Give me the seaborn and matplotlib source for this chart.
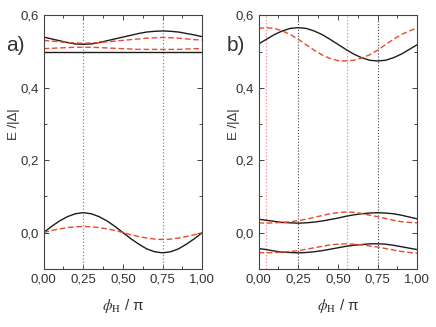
import matplotlib
matplotlib.use("Agg")
import matplotlib.pyplot as plt
from matplotlib.ticker import MultipleLocator
import seaborn as sns

# phase values (phi_H / pi)
phi = [0.00, 0.05, 0.10, 0.15, 0.20, 0.25, 0.30, 0.35, 0.40, 0.45, 0.50,
       0.55, 0.60, 0.65, 0.70, 0.75, 0.80, 0.85, 0.90, 0.95, 1.00]

# panel a)
a_black_top = [0.540, 0.535, 0.530, 0.525, 0.521, 0.520, 0.521, 0.525, 0.530, 0.535, 0.540,
               0.545, 0.550, 0.554, 0.556, 0.557, 0.556, 0.554, 0.550, 0.546, 0.541]
a_black_flat = [0.499] * 21
a_red_top = [0.531, 0.529, 0.527, 0.525, 0.524, 0.523, 0.524, 0.525, 0.527, 0.529, 0.531,
             0.533, 0.535, 0.537, 0.538, 0.539, 0.538, 0.537, 0.535, 0.533, 0.532]
a_red_mid = [0.508, 0.509, 0.510, 0.511, 0.512, 0.512, 0.512, 0.511, 0.510, 0.509, 0.508,
             0.507, 0.506, 0.506, 0.506, 0.506, 0.506, 0.506, 0.507, 0.508, 0.508]
a_black_low = [0.000, 0.017, 0.032, 0.044, 0.052, 0.055, 0.052, 0.044, 0.032, 0.017, 0.000,
               -0.017, -0.032, -0.045, -0.053, -0.056, -0.053, -0.045, -0.032, -0.017, 0.000]
a_red_low = [0.000, 0.006, 0.010, 0.014, 0.016, 0.017, 0.016, 0.014, 0.010, 0.006, 0.000,
             -0.006, -0.011, -0.015, -0.018, -0.019, -0.018, -0.015, -0.011, -0.006, 0.000]

# panel b)
b_black_top = [0.521, 0.534, 0.547, 0.557, 0.564, 0.566, 0.564, 0.557, 0.547, 0.534, 0.520,
               0.506, 0.493, 0.483, 0.476, 0.474, 0.476, 0.483, 0.493, 0.506, 0.519]
b_red_top = [0.564, 0.566, 0.564, 0.557, 0.547, 0.534, 0.519, 0.504, 0.491, 0.481, 0.475,
             0.474, 0.476, 0.482, 0.491, 0.504, 0.519, 0.534, 0.547, 0.557, 0.565]
b_black_l1 = [0.037, 0.034, 0.031, 0.028, 0.027, 0.026, 0.027, 0.029, 0.032, 0.036, 0.040,
              0.045, 0.049, 0.052, 0.054, 0.055, 0.054, 0.052, 0.048, 0.043, 0.038]
b_red_l1 = [0.027, 0.026, 0.027, 0.028, 0.030, 0.033, 0.037, 0.042, 0.047, 0.052, 0.055,
            0.057, 0.056, 0.053, 0.048, 0.044, 0.039, 0.034, 0.030, 0.028, 0.027]
b_black_l2 = [-0.044, -0.047, -0.051, -0.054, -0.055, -0.056, -0.055, -0.053, -0.050, -0.046, -0.042,
              -0.038, -0.035, -0.033, -0.031, -0.031, -0.032, -0.035, -0.039, -0.043, -0.047]
b_red_l2 = [-0.055, -0.056, -0.055, -0.054, -0.052, -0.050, -0.046, -0.042, -0.038, -0.034, -0.032,
            -0.031, -0.032, -0.034, -0.037, -0.040, -0.044, -0.048, -0.052, -0.055, -0.057]

a_vlines = [0.25, 0.75]
b_vlines_black = [0.25, 0.75]
b_vlines_red = [0.045, 0.555]

xtick_vals = [0.0, 0.25, 0.5, 0.75, 1.0]
xtick_labels = ["0,00", "0,25", "0,50", "0,75", "1,00"]
ytick_vals = [0.0, 0.2, 0.4, 0.6]
ytick_labels = ["0,0", "0,2", "0,4", "0,6"]

sns.set_style("ticks")
plt.rcParams['font.family'] = ['Liberation Sans', 'DejaVu Sans']
plt.rcParams['mathtext.fontset'] = 'stix'

BLACK = '#1c1c1c'
RED = '#ec4a2c'
TXT = '#333333'

fig = plt.figure(figsize=(4.36, 3.27), dpi=100)
ax_a = fig.add_axes([0.100, 0.178, 0.364, 0.775])
ax_b = fig.add_axes([0.593, 0.178, 0.364, 0.775])


def style_axis(ax):
    ax.set_xlim(0, 1)
    ax.set_ylim(-0.1, 0.6)
    ax.set_xticks(xtick_vals)
    ax.set_xticklabels(xtick_labels)
    ax.set_yticks(ytick_vals)
    ax.set_yticklabels(ytick_labels)
    ax.xaxis.set_minor_locator(MultipleLocator(0.125))
    ax.yaxis.set_minor_locator(MultipleLocator(0.1))
    ax.tick_params(which='both', direction='in', top=True, right=True,
                   labelsize=9.5, labelcolor=TXT, color='#444444', width=0.7)
    ax.tick_params(which='major', length=3.5)
    ax.tick_params(which='minor', length=2)
    for sp in ax.spines.values():
        sp.set_color('#444444')
        sp.set_linewidth(0.8)
    ax.set_xlabel(r'$\phi_\mathrm{H}$ / π', fontsize=11, color=TXT, labelpad=8)
    ax.set_ylabel('E /|Δ|', fontsize=9.5, color=TXT)


# panel a
for xv in a_vlines:
    ax_a.axvline(xv, color='#888888', linestyle=':', linewidth=0.9)
sns.lineplot(x=phi, y=a_black_top, ax=ax_a, color=BLACK, linewidth=1.0)
sns.lineplot(x=phi, y=a_black_flat, ax=ax_a, color=BLACK, linewidth=1.0)
sns.lineplot(x=phi, y=a_black_low, ax=ax_a, color=BLACK, linewidth=1.0)
for yy in [a_red_top, a_red_mid, a_red_low]:
    sns.lineplot(x=phi, y=yy, ax=ax_a, color=RED, linewidth=1.0, linestyle=(0, (4, 2)))
style_axis(ax_a)
ax_a.yaxis.set_label_coords(-0.15, 0.57)

# panel b
for xv in b_vlines_black:
    ax_b.axvline(xv, color='#444444', linestyle=':', linewidth=0.8)
for xv in b_vlines_red:
    ax_b.axvline(xv, color='#f28a8a', linestyle=':', linewidth=0.9)
for yy in [b_black_top, b_black_l1, b_black_l2]:
    sns.lineplot(x=phi, y=yy, ax=ax_b, color=BLACK, linewidth=1.0)
for yy in [b_red_top, b_red_l1, b_red_l2]:
    sns.lineplot(x=phi, y=yy, ax=ax_b, color=RED, linewidth=1.0, linestyle=(0, (4, 2)))
style_axis(ax_b)
ax_b.yaxis.set_label_coords(-0.12, 0.57)

fig.text(0.014, 0.86, 'a)', fontsize=15, color=TXT, va='center', ha='left')
fig.text(0.519, 0.86, 'b)', fontsize=15, color=TXT, va='center', ha='left')

fig.savefig('out.png', dpi=100)
